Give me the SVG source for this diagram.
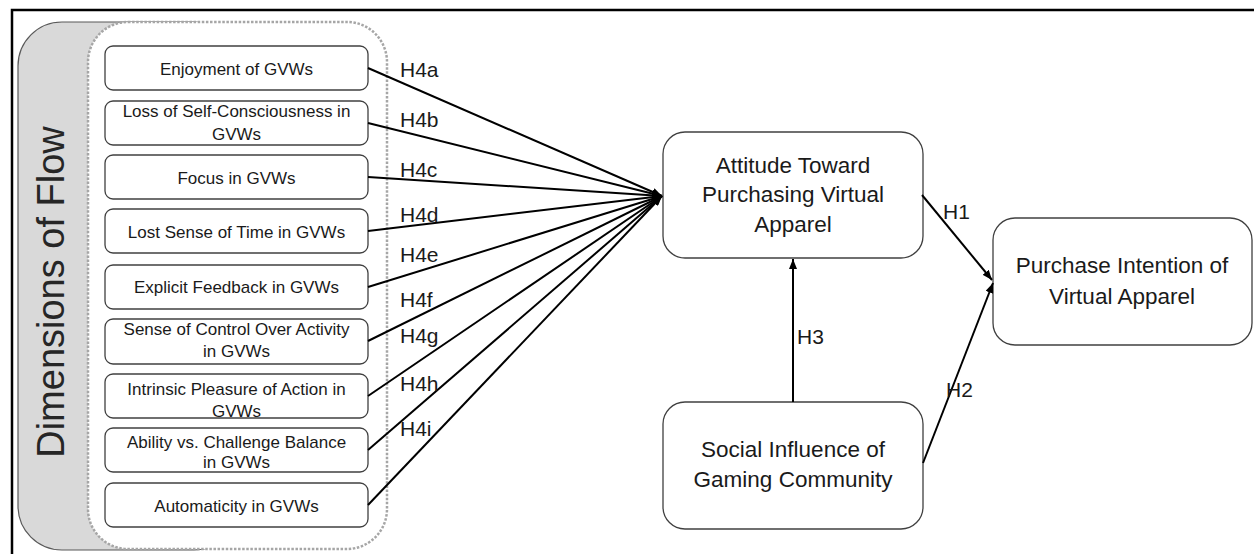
<svg xmlns="http://www.w3.org/2000/svg" width="1254" height="554" viewBox="0 0 1254 554">
<style>
.small{fill:#fff;stroke:#404040;stroke-width:1.3}
.big{fill:#fff;stroke:#404040;stroke-width:1.3}
.t{font-family:"Liberation Sans",Arial,sans-serif;font-size:17px;fill:#1a1a1a;text-anchor:middle}
.tb{font-family:"Liberation Sans",Arial,sans-serif;font-size:22.5px;fill:#1a1a1a;text-anchor:middle}
.lab{font-family:"Liberation Sans",Arial,sans-serif;font-size:21px;fill:#1a1a1a}
.c{stroke:#000;stroke-width:2;fill:none;marker-end:url(#ah)}
</style>
<defs>
<marker id="ah" markerUnits="userSpaceOnUse" markerWidth="10" markerHeight="8" refX="10" refY="4" orient="auto">
<path d="M0,0 L10,4 L0,8 z" fill="#000"/>
</marker>
</defs>
<rect x="0" y="0" width="1254" height="554" fill="#fff"/>
<rect x="12" y="10" width="1260" height="570" fill="none" stroke="#000" stroke-width="2.5"/>
<g id="group-flow">
<rect x="18" y="22" width="220" height="528" rx="44" ry="44" fill="#d9d9d9" stroke="#595959" stroke-width="1.2"/>
<rect x="88" y="22" width="299" height="527" rx="40" ry="40" fill="#fff" stroke="#a6a6a6" stroke-width="2.5" stroke-dasharray="2.5 1.6"/>
<text class="tb" style="font-size:38px;fill:#262626" transform="translate(64,292) rotate(-90)">Dimensions of Flow</text>
</g>
<g id="node-enjoyment"><rect class="small" x="105" y="46" width="263" height="44" rx="8"/><text class="t" x="236.5" y="75">Enjoyment of GVWs</text></g>
<g id="node-loss"><rect class="small" x="105" y="101" width="263" height="44" rx="8"/><text class="t" x="236.5" y="117">Loss of Self-Consciousness in</text><text class="t" x="236.5" y="140">GVWs</text></g>
<g id="node-focus"><rect class="small" x="105" y="155" width="263" height="44" rx="8"/><text class="t" x="236.5" y="184">Focus in GVWs</text></g>
<g id="node-time"><rect class="small" x="105" y="209" width="263" height="44" rx="8"/><text class="t" x="236.5" y="238">Lost Sense of Time in GVWs</text></g>
<g id="node-feedback"><rect class="small" x="105" y="265" width="263" height="44" rx="8"/><text class="t" x="236.5" y="293">Explicit Feedback in GVWs</text></g>
<g id="node-control"><rect class="small" x="105" y="319" width="263" height="45" rx="8"/><text class="t" x="236.5" y="335">Sense of Control Over Activity</text><text class="t" x="236.5" y="357">in GVWs</text></g>
<g id="node-pleasure"><rect class="small" x="105" y="374" width="263" height="44" rx="8"/><text class="t" x="236.5" y="395">Intrinsic Pleasure of Action in</text><text class="t" x="236.5" y="417">GVWs</text></g>
<g id="node-ability"><rect class="small" x="105" y="428" width="263" height="44" rx="8"/><text class="t" x="236.5" y="448">Ability vs. Challenge Balance</text><text class="t" x="236.5" y="468">in GVWs</text></g>
<g id="node-automaticity"><rect class="small" x="105" y="483" width="263" height="44" rx="8"/><text class="t" x="236.5" y="512">Automaticity in GVWs</text></g>
<g id="node-attitude"><rect class="big" x="663" y="132" width="260" height="126" rx="22"/><text class="tb" x="793" y="173">Attitude Toward</text><text class="tb" x="793" y="202">Purchasing Virtual</text><text class="tb" x="793" y="232">Apparel</text></g>
<g id="node-purchase"><rect class="big" x="993" y="218" width="259" height="127" rx="22"/><text class="tb" x="1122" y="273">Purchase Intention of</text><text class="tb" x="1122" y="304">Virtual Apparel</text></g>
<g id="node-social"><rect class="big" x="663" y="402" width="260" height="127" rx="22"/><text class="tb" x="793" y="457">Social Influence of</text><text class="tb" x="793" y="487">Gaming Community</text></g>
<g id="connectors">
<line class="c" x1="368" y1="68" x2="662" y2="196"/>
<line class="c" x1="368" y1="123" x2="662" y2="196"/>
<line class="c" x1="368" y1="177" x2="662" y2="196"/>
<line class="c" x1="368" y1="231" x2="662" y2="196"/>
<line class="c" x1="368" y1="287" x2="662" y2="196"/>
<line class="c" x1="368" y1="341" x2="662" y2="196"/>
<line class="c" x1="368" y1="396" x2="662" y2="196"/>
<line class="c" x1="368" y1="450" x2="662" y2="196"/>
<line class="c" x1="368" y1="505" x2="662" y2="196"/>
<line class="c" x1="922" y1="195" x2="992" y2="280"/>
<line class="c" x1="923" y1="463" x2="993" y2="283"/>
<line class="c" x1="793" y1="402" x2="793" y2="259"/>
<text class="lab" x="400" y="77">H4a</text>
<text class="lab" x="400" y="127">H4b</text>
<text class="lab" x="400" y="177">H4c</text>
<text class="lab" x="400" y="222">H4d</text>
<text class="lab" x="400" y="262">H4e</text>
<text class="lab" x="400" y="307">H4f</text>
<text class="lab" x="400" y="343">H4g</text>
<text class="lab" x="400" y="391">H4h</text>
<text class="lab" x="400" y="436">H4i</text>
<text class="lab" x="943" y="219">H1</text>
<text class="lab" x="946" y="397">H2</text>
<text class="lab" x="797" y="344">H3</text>
</g>
</svg>
